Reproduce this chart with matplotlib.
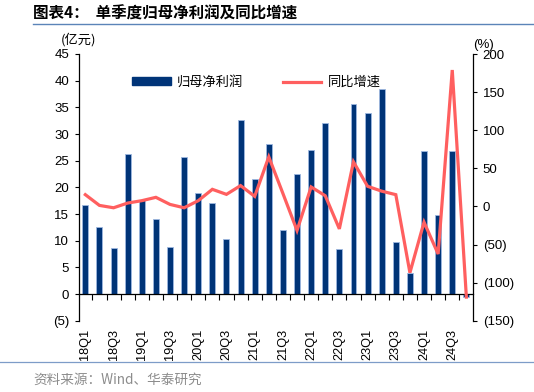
import matplotlib
matplotlib.use("Agg")
import matplotlib.pyplot as plt
from matplotlib.lines import Line2D
import numpy as np

plt.rcParams['font.family'] = ['Liberation Sans', 'Noto Sans CJK SC', 'DejaVu Sans']

quarters = [f"{y}Q{q}" for y in range(18, 25) for q in range(1, 5)]
profit = [16.7, 12.5, 8.6, 26.2, 17.6, 14.0, 8.9, 25.7, 19.0, 17.1, 10.3, 32.7, 21.5, 28.1,
          12.0, 22.5, 27.0, 32.0, 8.4, 35.7, 33.9, 38.5, 9.8, 4.0, 26.9, 14.8, 26.9, -0.6]
growth = [15.4, 1.3, -1.8, 4.4, 7.5, 11.9, 2.6, -1.8, 7.5, 22.4, 15.8, 27.3, 13.2, 65.0,
          17.0, -31.6, 25.5, 14.0, -29.5, 58.5, 26.4, 20.0, 15.4, -87.0, -20.7, -62.5, 179.0, -119.0]
left_ticks = [-5, 0, 5, 10, 15, 20, 25, 30, 35, 40, 45]
right_ticks = [-150, -100, -50, 0, 50, 100, 150, 200]

title = "图表4：  单季度归母净利润及同比增速"
source = "资料来源：Wind、华泰研究"
bar_label = "归母净利润"
line_label = "同比增速"

def paren(v):
    return f"({abs(int(v))})" if v < 0 else f"{int(v)}"

bar_color = "#003478"
line_color = "#FF5F5F"
cjk = ['Noto Sans CJK SC', 'DejaVu Sans']

fig = plt.figure(figsize=(5.34, 3.92), dpi=100)
W, H = 534, 392
ax = fig.add_axes([78.7 / W, 1 - 320.7 / H, (473 - 78.7) / W, (320.7 - 54) / H])
ax2 = ax.twinx()

x = np.arange(len(quarters))
ax.bar(x, profit, width=0.42, color=bar_color, edgecolor="#9DB8E0", linewidth=0.6, zorder=2)
ax2.plot(x, growth, color=line_color, lw=2.3, zorder=3, solid_joinstyle='miter')

ax.set_xlim(-0.47, len(quarters) - 0.53)
ax.set_ylim(-5, 45)
ax2.set_ylim(-150, 200)

ax.set_yticks(left_ticks)
ax.set_yticklabels([paren(v) for v in left_ticks], fontsize=9.5)
ax2.set_yticks(right_ticks)
ax2.set_yticklabels([paren(v) for v in right_ticks], fontsize=9.5)

for a in (ax, ax2):
    a.spines['top'].set_visible(False)
    a.spines['bottom'].set_visible(False)
ax2.spines['left'].set_visible(False)
ax.spines['right'].set_visible(False)
ax.spines['bottom'].set_visible(True)
ax.spines['bottom'].set_position(('data', 0))
for s in ('left', 'bottom'):
    ax.spines[s].set_linewidth(0.9)
ax2.spines['right'].set_linewidth(0.9)

ax.tick_params(axis='y', direction='out', length=3, width=0.8, pad=4)
ax2.tick_params(axis='y', direction='out', length=3, width=0.8, pad=4)

ax.set_xticks(x[::2])
ax.set_xticklabels(quarters[::2], rotation=90, fontsize=9.2, va='top')
ax.set_xticks(x[:-1] + 0.5, minor=True)
ax.tick_params(axis='x', which='major', length=0, pad=25)
ax.tick_params(axis='x', which='minor', length=4, width=0.8, direction='out')

handles = [plt.Rectangle((0, 0), 1, 1, color=bar_color),
           Line2D([0], [0], color=line_color, lw=2.3)]
leg = ax2.legend(handles, [bar_label, line_label], ncol=2, frameon=False,
                 loc='upper left', bbox_to_anchor=(120 / W, 1 - 64 / H),
                 bbox_transform=fig.transFigure, handlelength=2.95, handleheight=0.5,
                 handletextpad=0.45, columnspacing=3.0, prop={'family': cjk, 'size': 9.5})

fig.text(79 / W, 1 - 40 / H, "(亿元)", ha='center', va='center', fontsize=9.5, family=cjk)
fig.text(484 / W, 1 - 45 / H, "(%)", ha='center', va='center', fontsize=9.5)

fig.text(33 / W, 1 - 14 / H, title, ha='left', va='center', fontsize=11.2,
         fontweight='bold', family=cjk)
fig.add_artist(Line2D([33 / W, 1], [1 - 24 / H, 1 - 24 / H], color="#5B84B8", lw=1.0,
                      transform=fig.transFigure))
fig.add_artist(Line2D([0, 1], [1 - 362 / H, 1 - 362 / H], color="#7D9CC8", lw=0.9,
                      transform=fig.transFigure))
fig.text(33 / W, 1 - 380 / H, source, ha='left', va='center', fontsize=9.8,
         color="#8C8C8C", family=cjk)

fig.savefig("out.png", dpi=100)
